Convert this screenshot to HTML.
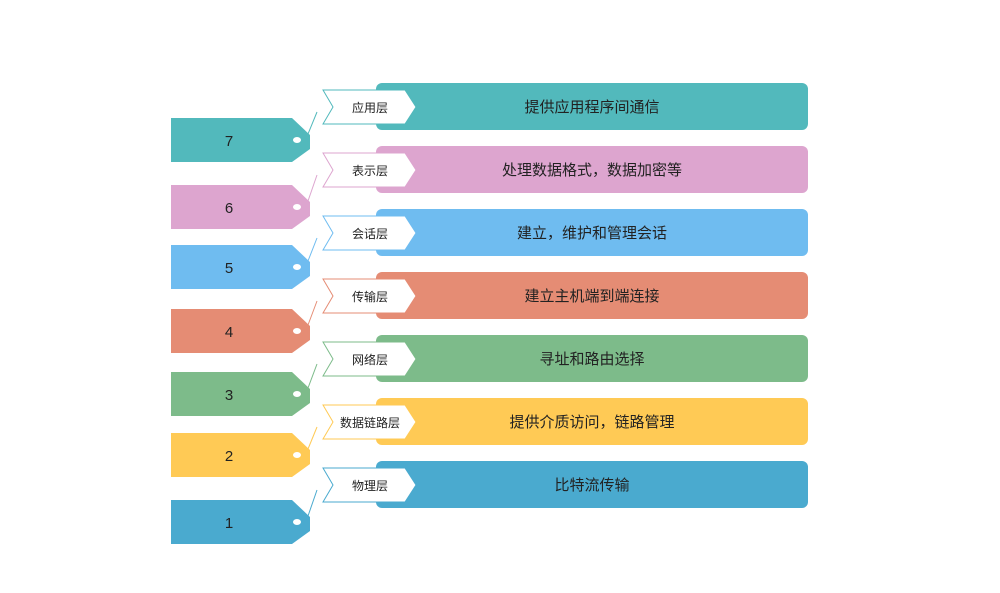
<!DOCTYPE html>
<html><head><meta charset="utf-8"><style>
body{margin:0;background:#fff;width:1000px;height:588px;overflow:hidden}
text{font-family:"Liberation Sans","Noto Sans CJK SC",sans-serif}
</style></head><body>
<svg width="1000" height="588" viewBox="0 0 1000 588" xmlns="http://www.w3.org/2000/svg">
<g id="rows"></g>
</svg>
<script>
const rows=[
 ["7","应用层","提供应用程序间通信","#52b9bc",118,83],
 ["6","表示层","处理数据格式，数据加密等","#dda5cf",185,146],
 ["5","会话层","建立，维护和管理会话","#6fbcf0",245,209],
 ["4","传输层","建立主机端到端连接","#e58c74",309,272],
 ["3","网络层","寻址和路由选择","#7dbb8a",372,335],
 ["2","数据链路层","提供介质访问，链路管理","#ffca55",433,398],
 ["1","物理层","比特流传输","#4aaacf",500,461]];
let s="";
for(const [n,l,d,c,ty,by] of rows){
 s+=`<polygon points="171,${ty} 292,${ty} 310,${ty+17} 310,${ty+31} 292,${ty+44} 171,${ty+44}" fill="${c}"/>`;
 s+=`<ellipse cx="297" cy="${ty+22}" rx="4" ry="3" fill="#fff"/>`;
 s+=`<text x="229" y="${ty+28}" font-size="15" text-anchor="middle" fill="#222">${n}</text>`;
 s+=`<rect x="376" y="${by}" width="432" height="47" rx="6" fill="${c}"/>`;
 s+=`<text x="592" y="${by+29}" font-size="15" text-anchor="middle" fill="#222">${d}</text>`;
 const ly=by+7;
 s+=`<polygon points="323,${ly} 405,${ly} 416,${ly+17} 405,${ly+34} 323,${ly+34} 333,${ly+17}" fill="#fff" stroke="${c}" stroke-width="1"/>`;
 s+=`<text x="370" y="${ly+22}" font-size="12" text-anchor="middle" fill="#222">${l}</text>`;
 s+=`<line x1="308" y1="${ty+16}" x2="317" y2="${ly+22}" stroke="${c}" stroke-width="1"/>`;
}
document.getElementById("rows").innerHTML=s;
</script>
</body></html>
